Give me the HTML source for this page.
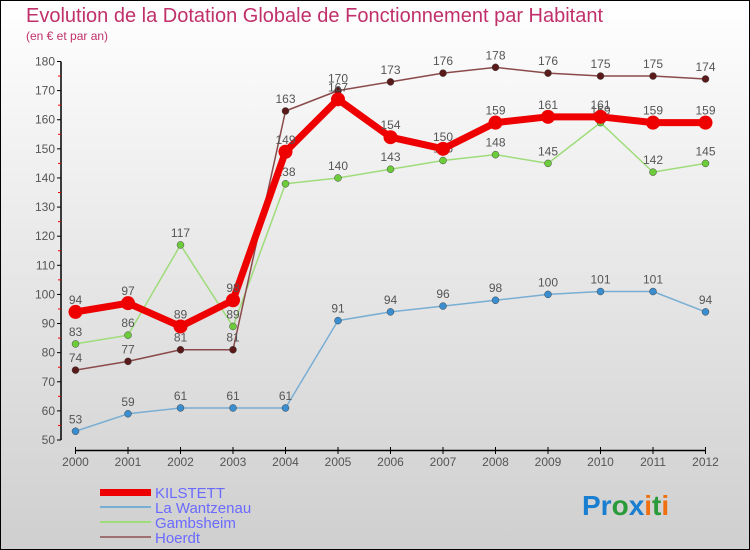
<!DOCTYPE html>
<html><head><meta charset="utf-8"><style>
body{margin:0}
#c{width:750px;height:550px;position:relative;box-sizing:border-box;border:1px solid #000;background:linear-gradient(#fff,#f0f0f0 30%,#cfcfcf);font-family:"Liberation Sans",sans-serif;overflow:hidden}
text{font-family:"Liberation Sans",sans-serif}
</style></head><body>
<div id="c">
<svg id="s" width="750" height="550" style="position:absolute;left:-1px;top:-1px">
<text x="26" y="22" font-size="20" fill="#c0306a">Evolution de la Dotation Globale de Fonctionnement par Habitant</text>
<text x="26" y="40" font-size="12" fill="#c0306a">(en € et par an)</text>
<g id="axes"></g><g id="series"></g>
<g>
<rect x="100" y="489" width="51" height="7" fill="#e00"/>
<text x="155" y="498" font-size="15" fill="#6a6aff">KILSTETT</text>
<line x1="100" x2="151" y1="507" y2="507" stroke="#79aed4" stroke-width="2"/>
<text x="155" y="513" font-size="15" fill="#6a6aff">La Wantzenau</text>
<line x1="100" x2="151" y1="522" y2="522" stroke="#9fdc7a" stroke-width="2"/>
<text x="155" y="528" font-size="15" fill="#6a6aff">Gambsheim</text>
<line x1="100" x2="151" y1="537" y2="537" stroke="#a07070" stroke-width="2"/>
<text x="155" y="543" font-size="15" fill="#6a6aff">Hoerdt</text>
</g>
<g font-size="28" font-weight="bold">
<text x="582" y="515"><tspan fill="#1a7fd0">Pr</tspan><tspan fill="#2a9a3a">o</tspan><tspan fill="#1a7fd0">x</tspan><tspan fill="#f07010">i</tspan><tspan fill="#2a9a3a">t</tspan><tspan fill="#f07010">i</tspan></text>
</g>
</svg>
</div>
<script>
const years=[2000,2001,2002,2003,2004,2005,2006,2007,2008,2009,2010,2011,2012];
const kilstett=[94,97,89,98,149,167,154,150,159,161,161,159,159];
const wantzenau=[53,59,61,61,61,91,94,96,98,100,101,101,94];
const gambsheim=[83,86,117,89,138,140,143,146,148,145,159,142,145];
const hoerdt=[74,77,81,81,163,170,173,176,178,176,175,175,174];
const yTicks=[50,60,70,80,90,100,110,120,130,140,150,160,170,180];
const NS="http://www.w3.org/2000/svg";
const X=i=>75.5+i*(705.5-75.5)/(years.length-1);
const Y=v=>440-(v-50)*(440-61.5)/130;
function mk(t,a,p){const e=document.createElementNS(NS,t);for(const k in a)e.setAttribute(k,a[k]);p.appendChild(e);return e;}
const ax=document.getElementById('axes');
const yl=mk('line',{x1:61,x2:61,y1:Y(180),y2:Y(50),stroke:'#000','stroke-width':1.5},ax);


yTicks.forEach(v=>{
 mk('line',{x1:57,x2:61,y1:Y(v),y2:Y(v),stroke:'#000'},ax);
 if(v<180)mk('line',{x1:58,x2:61,y1:Y(v+5),y2:Y(v+5),stroke:'#e00'},ax);
 const t=mk('text',{x:55,y:Y(v)+4,'text-anchor':'end','font-size':12,fill:'#555'},ax);
 t.textContent=v;
 
 
});
const xl=mk('line',{x1:X(0),x2:X(12),y1:450.5,y2:450.5,stroke:'#000','stroke-width':1.5},ax);


years.forEach((y,i)=>{
 mk('line',{x1:X(i),x2:X(i),y1:447,y2:454,stroke:'#000'},ax);
 const t=mk('text',{x:X(i),y:466,'text-anchor':'middle','font-size':12,fill:'#555'},ax);
 t.textContent=y;
 
 
});
const sg=document.getElementById('series');
function series(d,name,col,dot,w,r){
 const g=mk('g',{},sg);
 
 
 const pl=mk('polyline',{points:d.map((v,i)=>X(i)+','+Y(v)).join(' '),fill:'none',stroke:col,'stroke-width':w,'stroke-linejoin':'round'},g);
 
 
 d.forEach((v,i)=>{
  const c=mk('circle',{cx:X(i),cy:Y(v),r:r,fill:dot,stroke:col==='#e00'?'none':'#444','stroke-width':0.5},g);
  
  
  const t=mk('text',{x:X(i),y:Y(v)-8,'text-anchor':'middle','font-size':12,fill:'#555'},g);
  t.textContent=v;
  
  
 });
}
series(wantzenau,'la-wantzenau','#79aed4','#3a8ed0',1.5,3.5);
series(gambsheim,'gambsheim','#9fdc7a','#6ccc3a',1.5,3.5);
series(hoerdt,'hoerdt','#8a4a4a','#5a1a1a',1.5,3.5);
series(kilstett,'kilstett','#e00','#e00',7,7);
</script>
</body></html>
